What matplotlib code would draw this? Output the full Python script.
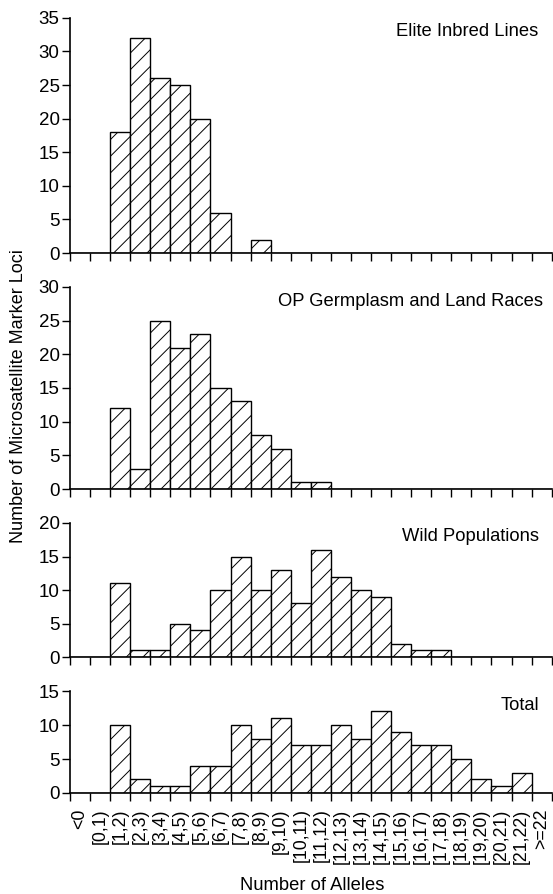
import numpy as np
import matplotlib.pyplot as plt

plt.rc("font", family=["Liberation Sans", "DejaVu Sans"], size=13.2)
plt.rcParams["hatch.linewidth"] = 0.7

cats = ["<0", "[0,1)", "[1,2)", "[2,3)", "[3,4)", "[4,5)", "[5,6)", "[6,7)",
        "[7,8)", "[8,9)", "[9,10)", "[10,11)", "[11,12)", "[12,13)", "[13,14)",
        "[14,15)", "[15,16)", "[16,17)", "[17,18)", "[18,19)", "[19,20)",
        "[20,21)", "[21,22)", ">=22"]

elite = [0, 0, 18, 32, 26, 25, 20, 6, 0, 2, 0, 0, 0, 0, 0, 0, 0, 0, 0, 0, 0, 0, 0, 0]
op = [0, 0, 12, 3, 25, 21, 23, 15, 13, 8, 6, 1, 1, 0, 0, 0, 0, 0, 0, 0, 0, 0, 0, 0]
wild = [0, 0, 11, 1, 1, 5, 4, 10, 15, 10, 13, 8, 16, 12, 10, 9, 2, 1, 1, 0, 0, 0, 0, 0]
total = [0, 0, 10, 2, 1, 1, 4, 4, 10, 8, 11, 7, 7, 10, 8, 12, 9, 7, 7, 5, 2, 1, 3, 0]

panels = [
    ("Elite Inbred Lines", elite, 35, 0.972, 0.94),
    ("OP Germplasm and Land Races", op, 30, 0.983, 0.926),
    ("Wild Populations", wild, 20, 0.974, 0.90),
    ("Total", total, 15, 0.974, 0.86),
]
# axes rects (left, bottom, width, height) in figure fractions
rects = [
    [0.1266, 0.717, 0.871, 0.263],
    [0.1266, 0.453, 0.871, 0.226],
    [0.1266, 0.265, 0.871, 0.150],
    [0.1266, 0.113, 0.871, 0.114],
]

fig = plt.figure(figsize=(5.53, 8.94), dpi=100)
x = np.arange(len(cats))

for i, ((title, vals, ymax, tx, ty), r) in enumerate(zip(panels, rects)):
    ax = fig.add_axes(r)
    ax.bar(x + 0.5, vals, width=1.0, color="white", edgecolor="black",
           linewidth=1.0, hatch="//")
    ax.set_xlim(0, len(cats))
    ax.set_ylim(0, ymax)
    ax.set_yticks(np.arange(0, ymax + 1, 5))
    ax.set_xticks(np.arange(0, len(cats) + 1))
    ax.set_xticklabels([])
    ax.spines["top"].set_visible(False)
    ax.spines["right"].set_visible(False)
    ax.spines["left"].set_linewidth(1.2)
    ax.spines["bottom"].set_linewidth(1.2)
    ax.tick_params(axis="both", direction="out", length=6, width=1.0, pad=1.5,
                   labelsize=13.5)
    ax.text(tx, ty, title, transform=ax.transAxes, ha="right", va="center")
    if i == 3:
        ax.set_xticks(x + 0.5, minor=True)
        ax.set_xticklabels(cats, minor=True, rotation=90, va="top", ha="center")
        ax.tick_params(axis="x", which="minor", length=0, pad=11, labelsize=12.8)

fig.text(18.5 / 553, 1 - 396 / 894, "Number of Microsatellite Marker Loci",
         rotation=90, ha="center", va="center", size=13)
fig.text(312 / 553, 1 - 885 / 894, "Number of Alleles", ha="center", va="center")

fig.savefig("out.png", dpi=100)
